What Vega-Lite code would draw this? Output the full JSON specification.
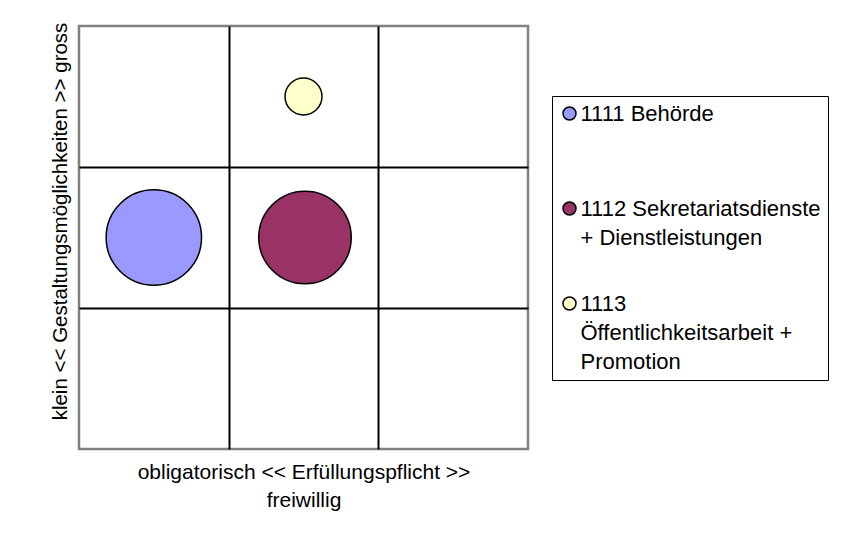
{
  "$schema": "https://vega.github.io/schema/vega-lite/v6.json",
  "width": 449,
  "height": 423,
  "autosize": "none",
  "padding": {"left": 79, "top": 26, "right": 334, "bottom": 104},
  "background": "white",
  "data": {
    "values": [
      {"bereich": "1111 Behörde", "pflicht": 0.5, "gestaltung": 1.5, "wert": 100},
      {"bereich": "1112 Sekretariatsdienste + Dienstleistungen", "pflicht": 1.51, "gestaltung": 1.5, "wert": 94},
      {"bereich": "1113 Öffentlichkeitsarbeit + Promotion", "pflicht": 1.5, "gestaltung": 2.5, "wert": 15}
    ]
  },
  "mark": {"type": "point", "shape": "circle", "filled": true, "opacity": 1, "stroke": "black", "strokeWidth": 1.5},
  "encoding": {
    "x": {
      "field": "pflicht", "type": "quantitative",
      "scale": {"domain": [0, 3], "nice": false, "zero": false},
      "axis": {
        "values": [1, 2], "grid": true, "gridColor": "black", "gridWidth": 2, "gridOpacity": 1,
        "labels": false, "ticks": false, "domain": false, "minExtent": 0, "maxExtent": 0,
        "title": ["obligatorisch <<  Erfüllungspflicht  >>", "freiwillig"],
        "titleFont": "Liberation Sans", "titleFontSize": 21, "titleFontWeight": "normal",
        "titleColor": "black", "titlePadding": 12, "titleLineHeight": 28
      }
    },
    "y": {
      "field": "gestaltung", "type": "quantitative",
      "scale": {"domain": [0, 3], "nice": false, "zero": false},
      "axis": {
        "values": [1, 2], "grid": true, "gridColor": "black", "gridWidth": 2, "gridOpacity": 1,
        "labels": false, "ticks": false, "domain": false, "minExtent": 0, "maxExtent": 0,
        "title": "klein << Gestaltungsmöglichkeiten >> gross",
        "titleFont": "Liberation Sans", "titleFontSize": 20.5, "titleFontWeight": "normal",
        "titleColor": "black", "titlePadding": 9, "titleY": 195
      }
    },
    "size": {
      "field": "wert", "type": "quantitative",
      "scale": {"domain": [0, 100], "range": [0, 9100], "zero": true},
      "legend": null
    },
    "color": {
      "field": "bereich", "type": "nominal",
      "scale": {
        "domain": ["1111 Behörde", "1112 Sekretariatsdienste + Dienstleistungen", "1113 Öffentlichkeitsarbeit + Promotion"],
        "range": ["#9999FF", "#993366", "#FFFFCC"]
      },
      "legend": {
        "title": null,
        "orient": "none",
        "legendX": 473,
        "legendY": 70,
        "direction": "vertical",
        "strokeColor": "black",
        "fillColor": "white",
        "padding": 6.5,
        "symbolType": "circle",
        "symbolSize": 169,
        "symbolStrokeColor": "black",
        "symbolStrokeWidth": 1.5,
        "symbolOffset": 0,
        "labelOffset": 0,
        "labelFont": "Liberation Sans",
        "labelFontSize": 22,
        "labelColor": "black",
        "labelLimit": 0,
        "labelBaseline": "top",
        "rowPadding": 14,
        "labelExpr": "datum.value == '1111 Behörde' ? ['1111 Behörde', ' ', ' '] : datum.value == '1112 Sekretariatsdienste + Dienstleistungen' ? ['1112 Sekretariatsdienste', '+ Dienstleistungen', ' '] : ['1113', 'Öffentlichkeitsarbeit +', 'Promotion']",
        "encoding": {"labels": {"dy": {"value": -9.5}, "lineHeight": {"value": 29}}}
      }
    }
  },
  "config": {
    "view": {"stroke": "#808080", "strokeWidth": 2.5},
    "font": "Liberation Sans"
  }
}
